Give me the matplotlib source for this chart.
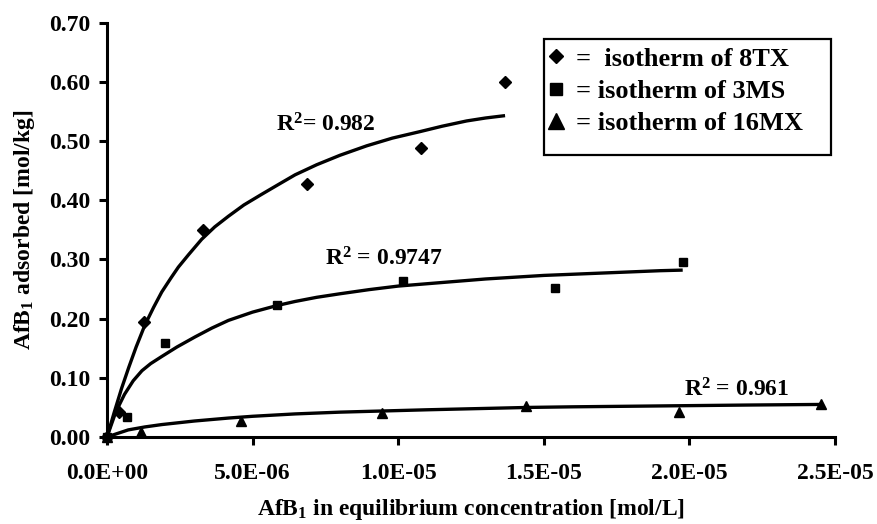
import numpy as np
import matplotlib
matplotlib.use('Agg')
import matplotlib.pyplot as plt
from matplotlib.lines import Line2D
from matplotlib.patches import Rectangle
from matplotlib.ticker import FuncFormatter

plt.rcParams['font.family'] = ['Liberation Serif', 'DejaVu Serif']
plt.rcParams['font.weight'] = 'bold'
plt.rcParams['mathtext.fontset'] = 'custom'
plt.rcParams['mathtext.rm'] = 'Liberation Serif:bold'
plt.rcParams['mathtext.it'] = 'Liberation Serif:bold'
plt.rcParams['mathtext.bf'] = 'Liberation Serif:bold'

# measured isotherm points (concentration in mol/L, adsorbed in mol/kg)
c_8tx = np.array([0, 0.41, 1.27, 3.29, 6.86, 10.78, 13.67]) * 1e-6
q_8tx = np.array([0, 0.042, 0.195, 0.350, 0.428, 0.489, 0.600])

c_3ms = np.array([0, 0.68, 1.99, 5.83, 10.15, 15.38, 19.77]) * 1e-6
q_3ms = np.array([0, 0.033, 0.159, 0.223, 0.263, 0.251, 0.295])

c_16mx = np.array([0, 1.16, 4.59, 9.43, 14.38, 19.64, 24.52]) * 1e-6
q_16mx = np.array([0, 0.009, 0.0275, 0.041, 0.053, 0.042, 0.056])

# fitted isotherm curves
fit_c_8tx = np.array([0, 0.25, 0.5, 0.75, 1.0, 1.3, 1.6, 1.88, 2.2, 2.45, 2.8, 3.25,
                      3.7, 4.17, 4.7, 5.31, 5.9, 6.46, 7.2, 8.0, 8.92, 9.8, 10.75,
                      11.5, 12.35, 13.0, 13.67]) * 1e-6
fit_q_8tx = np.array([0, 0.042, 0.082, 0.118, 0.152, 0.189, 0.219, 0.245, 0.269, 0.287,
                      0.308, 0.334, 0.355, 0.373, 0.392, 0.410, 0.427, 0.443, 0.460,
                      0.476, 0.492, 0.505, 0.516, 0.525, 0.534, 0.539, 0.543])

fit_c_3ms = np.array([0, 0.3, 0.6, 0.9, 1.2, 1.5, 1.88, 2.4, 3.02, 3.6, 4.17, 5.0, 5.83,
                      6.46, 7.2, 8.0, 9.0, 10.0, 11.0, 12.0, 13.0, 14.0, 15.0, 16.0,
                      17.0, 18.0, 19.0, 19.77]) * 1e-6
fit_q_3ms = np.array([0, 0.042, 0.072, 0.095, 0.112, 0.124, 0.136, 0.152, 0.169, 0.184,
                      0.197, 0.211, 0.222, 0.229, 0.236, 0.242, 0.249, 0.255, 0.259,
                      0.263, 0.267, 0.270, 0.273, 0.275, 0.277, 0.279, 0.281, 0.282])

fit_c_16mx = np.array([0, 0.3, 0.73, 1.3, 1.88, 3.0, 4.17, 5.0, 6.46, 8.0, 9.5, 11.0,
                       12.75, 14.5, 16.0, 18.0, 20.0, 22.0, 24.5]) * 1e-6
fit_q_16mx = np.array([0, 0.005, 0.012, 0.017, 0.021, 0.027, 0.032, 0.035, 0.039, 0.042,
                       0.044, 0.046, 0.048, 0.050, 0.051, 0.052, 0.053, 0.054, 0.055])

r2_labels = [r'R$^{2}$= 0.982', r'R$^{2}$ = 0.9747', r'R$^{2}$ = 0.961']
r2_pos = [(5.80e-6, 0.516), (7.49e-6, 0.289), (1.981e-5, 0.0676)]

legend_labels = ['=  isotherm of 8TX', '= isotherm of 3MS', '= isotherm of 16MX']

fig = plt.figure(figsize=(8.77, 5.24), dpi=100)
ax = fig.add_axes([107 / 877, 87 / 524, 728 / 877, 414.3 / 524])

lw = 2.4
ax.plot(fit_c_8tx, fit_q_8tx, color='black', lw=lw, solid_capstyle='butt')
ax.plot(fit_c_3ms, fit_q_3ms, color='black', lw=lw, solid_capstyle='butt')
ax.plot(fit_c_16mx, fit_q_16mx, color='black', lw=lw, solid_capstyle='butt')

ax.plot(c_8tx, q_8tx, 'D', color='black', ms=6.2, clip_on=False, zorder=4)
ax.plot(c_3ms, q_3ms, 's', color='black', ms=6.4, clip_on=False, zorder=4)
ax.plot(c_16mx, q_16mx, '^', color='black', ms=7, clip_on=False, zorder=4)

for txt, (x, y) in zip(r2_labels, r2_pos):
    ax.text(x, y, txt, fontsize=17, fontweight='bold', va='baseline', ha='left')

ax.set_xlim(0, 2.5e-5)
ax.set_ylim(0, 0.70)
ax.set_xticks(np.arange(0, 2.51e-5, 5e-6))
ax.set_yticks(np.arange(0, 0.71, 0.1))
ax.xaxis.set_major_formatter(FuncFormatter(lambda v, p: f'{v:.1E}'))
ax.yaxis.set_major_formatter(FuncFormatter(lambda v, p: f'{v:.2f}'))

for s in ['top', 'right']:
    ax.spines[s].set_visible(False)
for s in ['left', 'bottom']:
    ax.spines[s].set_linewidth(2.2)
ax.tick_params(axis='both', direction='out', length=6, width=2.2, labelsize=17)
ax.tick_params(axis='x', pad=13)
ax.tick_params(axis='y', pad=6)

ax.set_xlabel(r'AfB$_{1}$ in equilibrium concentration [mol/L]', fontsize=17,
              fontweight='bold', labelpad=9)
ax.set_ylabel(r'AfB$_{1}$ adsorbed [mol/kg]', fontsize=17, fontweight='bold', labelpad=9)

# legend box
fig.patches.append(Rectangle((544 / 877, 1 - 155 / 524), 287 / 877, 116 / 524,
                             transform=fig.transFigure, fill=False, edgecolor='black',
                             lw=1.6))
handles = [Line2D([], [], ls='none', marker='D', color='black', ms=7.5),
           Line2D([], [], ls='none', marker='s', color='black', ms=8.5),
           Line2D([], [], ls='none', marker='^', color='black', ms=11)]
fig.legend(handles, legend_labels, loc='upper left', bbox_to_anchor=(531 / 877, 1 - 34 / 524),
           frameon=False, prop={'size': 19, 'weight': 'bold'}, handlelength=0.9,
           handletextpad=0.3, labelspacing=0.33, borderpad=0.0)

fig.savefig('out.png', dpi=100)
